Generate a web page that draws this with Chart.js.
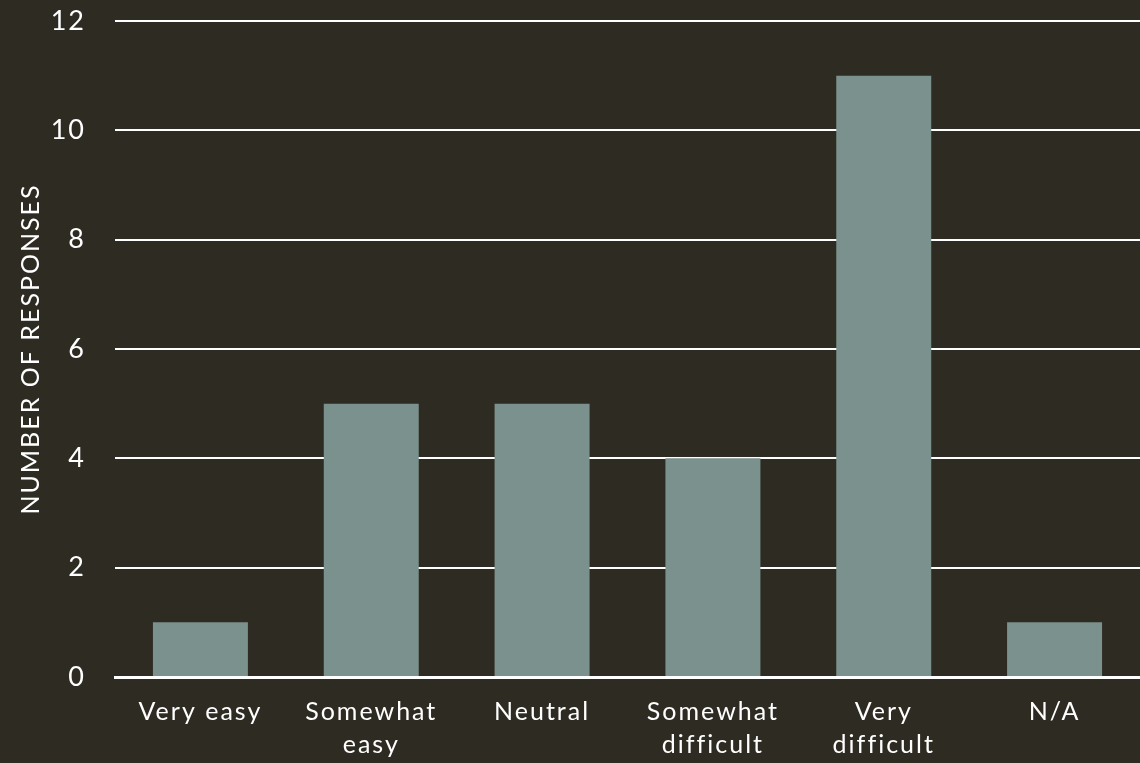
<!DOCTYPE html>
<html>
<head>
<meta charset="utf-8">
<script src="https://cdn.jsdelivr.net/npm/chart.js@4/dist/chart.umd.min.js"></script>
<style>
  html, body { margin: 0; padding: 0; background: #2e2b22; }
  #wrap { width: 1140px; height: 763px; }
</style>
</head>
<body>
<div id="wrap"><canvas id="chart" width="1140" height="763"></canvas></div>
<script>
// ---- data ----
const categories = [
  'Very easy',
  ['Somewhat', 'easy'],
  'Neutral',
  ['Somewhat', 'difficult'],
  ['Very', 'difficult'],
  'N/A'
];
const responses = [1, 5, 5, 4, 11, 1];
const yTicks = { min: 0, max: 12, step: 2 };

const BG = '#2e2b22';
const BAR = '#7b918d';
const FONT = 'Lato, "Open Sans", sans-serif';

// letter spacing to mimic the wide geometric face
// (canvas resize wipes ctx state, so set it again before layout and draw)
const spacing = {
  id: 'spacing',
  beforeUpdate(chart) { chart.ctx.letterSpacing = '2px'; },
  beforeLayout(chart) { chart.ctx.letterSpacing = '2px'; },
  beforeDraw(chart) {
    const c = chart.ctx;
    c.letterSpacing = '2px';
    c.save();
    c.fillStyle = BG;
    c.fillRect(0, 0, chart.width, chart.height);
    c.restore();
  }
};

new Chart(document.getElementById('chart'), {
  type: 'bar',
  data: {
    labels: categories,
    datasets: [{
      data: responses,
      backgroundColor: BAR,
      borderWidth: 0,
      barPercentage: 0.556,
      categoryPercentage: 1
    }]
  },
  options: {
    responsive: false,
    animation: false,
    layout: { padding: { top: 21, right: 0, bottom: 0, left: 0 } },
    plugins: { legend: { display: false }, tooltip: { enabled: false } },
    scales: {
      x: {
        grid: { display: false, drawTicks: false },
        border: { display: true, color: '#ffffff', width: 3 },
        ticks: {
          color: '#ffffff',
          font: { family: FONT, size: 25, lineHeight: 1.3 },
          padding: 19,
          maxRotation: 0,
          autoSkip: false
        },
        afterFit(scale) { scale.height = 86; scale.paddingLeft = 0; scale.paddingRight = 0; }
      },
      y: {
        min: yTicks.min,
        max: yTicks.max,
        grid: { color: '#ffffff', lineWidth: 2, drawTicks: false },
        border: { display: false },
        ticks: {
          stepSize: yTicks.step,
          color: '#ffffff',
          font: { family: FONT, size: 27 },
          padding: 29
        },
        title: {
          display: true,
          text: 'NUMBER OF RESPONSES',
          color: '#ffffff',
          font: { family: FONT, size: 25 },
          padding: { top: 16, bottom: 0 }
        },
        afterFit(scale) { scale.width = 115; scale.paddingTop = 0; scale.paddingBottom = 0; }
      }
    }
  },
  plugins: [spacing]
});
</script>
</body>
</html>
